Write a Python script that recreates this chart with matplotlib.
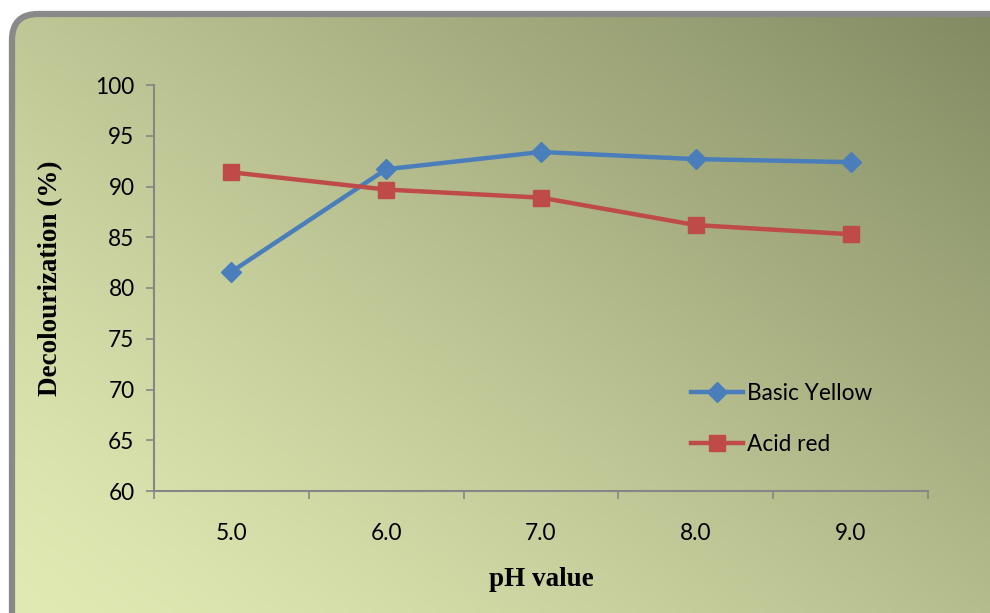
import numpy as np
import matplotlib
matplotlib.use("Agg")
import matplotlib.pyplot as plt
from matplotlib.patches import FancyBboxPatch

ph_labels = ["5.0", "6.0", "7.0", "8.0", "9.0"]
basic_yellow = [81.6, 91.7, 93.4, 92.7, 92.4]
acid_red = [91.4, 89.7, 88.9, 86.2, 85.3]
y_ticks = [60, 65, 70, 75, 80, 85, 90, 95, 100]

W, H = 990, 613
fig = plt.figure(figsize=(W / 100, H / 100), dpi=100)
fig.patch.set_facecolor("white")

# background gradient inside rounded rectangle
bg = fig.add_axes([0, 0, 1, 1])
bg.set_xlim(0, W)
bg.set_ylim(H, 0)
bg.axis("off")
xx, yy = np.meshgrid(np.linspace(0, 1, 200), np.linspace(0, 1, 130))
t = (xx * 0.55 + (1 - yy) * 0.45) ** 1.25  # 0 bottom-left, 1 top-right
c0 = np.array([226, 234, 180]) / 255
c1 = np.array([130, 138, 98]) / 255
img = c0[None, None, :] * (1 - t[..., None]) + c1[None, None, :] * t[..., None]
im = bg.imshow(img, extent=[10, W, H, 12], aspect="auto", zorder=0)
box = FancyBboxPatch((12, 14), W + 40, H + 40,
                     boxstyle="round,pad=0,rounding_size=26",
                     facecolor="none", edgecolor="#898989", linewidth=4.5, zorder=2)
bg.add_patch(box)
im.set_clip_path(box)

ax = fig.add_axes([154 / W, 1 - 491 / H, (928 - 154) / W, (491 - 85) / H])
ax.patch.set_alpha(0)
x = np.arange(len(ph_labels))
ax.plot(x, basic_yellow, color="#4a7ebb", lw=3.2, marker="D", ms=10,
        markeredgecolor="#4a7ebb", label="Basic Yellow", zorder=3, clip_on=False)
ax.plot(x, acid_red, color="#be4b48", lw=3.2, marker="s", ms=12,
        markeredgecolor="#be4b48", label="Acid red", zorder=3, clip_on=False)

ax.set_xlim(-0.5, len(ph_labels) - 0.5)
ax.set_ylim(60, 100)
ax.set_yticks(y_ticks)
ax.set_xticks(x)
ax.set_xticklabels(ph_labels)
ax.set_xticks(np.arange(-0.5, len(ph_labels)), minor=True)
ax.tick_params(axis="x", which="major", length=0, pad=23)
ax.tick_params(axis="x", which="minor", length=6, color="#868686", width=1.2, direction="out")
ax.tick_params(axis="y", length=6, color="#868686", width=1.2, direction="out", pad=8)
for lab in ax.get_xticklabels() + ax.get_yticklabels():
    lab.set_fontfamily("Lato")
    lab.set_fontsize(16.3)
    lab.set_color("black")
for s in ["top", "right"]:
    ax.spines[s].set_visible(False)
for s in ["left", "bottom"]:
    ax.spines[s].set_color("#868686")
    ax.spines[s].set_linewidth(1.5)

ax.set_xlabel("pH value", fontfamily="Liberation Serif", fontweight="bold", fontsize=19.5)
ax.set_ylabel("Decolourization (%)", fontfamily="Liberation Serif", fontweight="bold", fontsize=19.5)
ax.xaxis.set_label_coords(0.5, (491 - 592) / 406)
ax.yaxis.set_label_coords((63 - 154) / 774, (491 - 278) / 406)
ax.xaxis.label.set_va("bottom")

leg = ax.legend(loc="upper left", bbox_to_anchor=((671 - 154) / (928 - 154), (491 - 363) / (491 - 85)),
                frameon=False, labelspacing=1.3, handlelength=2.3, handletextpad=0.15,
                prop={"family": "Lato", "size": 16.3})

fig.savefig("out.png", dpi=100, facecolor="white")
